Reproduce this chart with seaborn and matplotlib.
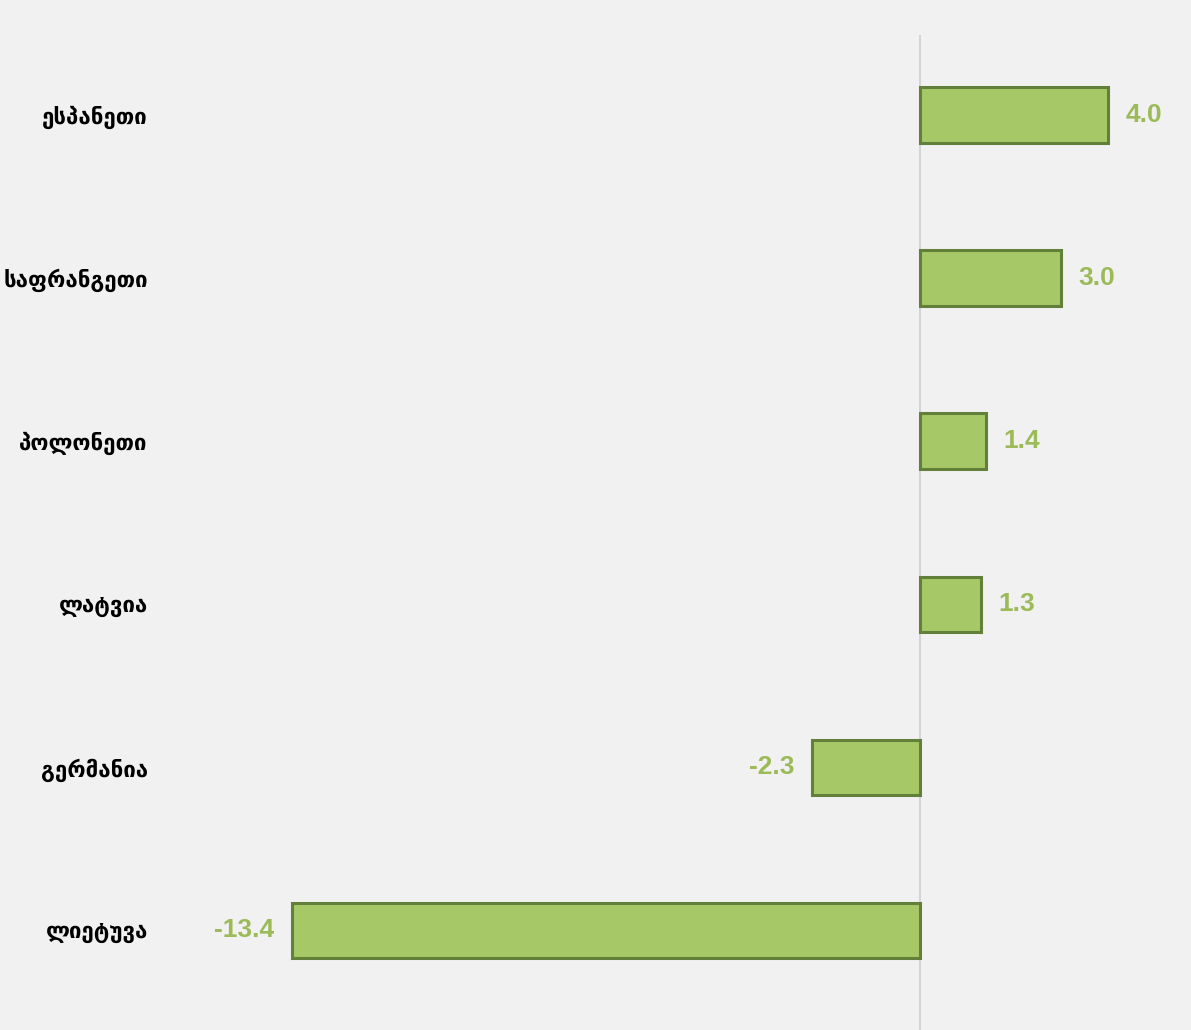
import pandas as pd
import matplotlib.pyplot as plt
import seaborn as sns

countries = ['ესპანეთი', 'საფრანგეთი', 'პოლონეთი', 'ლატვია', 'გერმანია', 'ლიეტუვა']
values = [4.0, 3.0, 1.4, 1.3, -2.3, -13.4]

df = pd.DataFrame({'country': countries, 'value': values})

sns.set_theme(style="white")
plt.rcParams['font.family'] = ['DejaVu Sans']

fig = plt.figure(figsize=(11.91, 10.30), dpi=100)
fig.patch.set_facecolor('#f1f1f1')
ax = fig.add_axes([170 / 1191, 0, 1021 / 1191, 995 / 1030])
ax.set_facecolor('#f1f1f1')

sns.barplot(data=df, x='value', y='country', orient='h', color='#a6c867',
            saturation=1, width=0.34, edgecolor='#62803a', linewidth=2.2, ax=ax)

# vertical zero line
ax.axvline(0, color='#cfcfcf', lw=1.2, zorder=0)

for i, v in enumerate(values):
    off = 0.38 if v > 0 else -0.38
    ax.text(v + off, i, f'{v:.1f}', ha='left' if v > 0 else 'right', va='center',
            color='#9bbb59', fontsize=19, fontweight='bold', family='Liberation Sans')

ax.set_xlim(-16.0, 5.78)
ax.set_ylim(5.61, -0.49)
ax.set_xlabel('')
ax.set_ylabel('')
ax.set_xticks([])
for s in ax.spines.values():
    s.set_visible(False)
ax.tick_params(axis='y', length=0, pad=16)
for lbl in ax.get_yticklabels():
    lbl.set_fontsize(16)
    lbl.set_fontweight('bold')
    lbl.set_color('black')

plt.savefig('out.png', dpi=100, facecolor=fig.get_facecolor())
plt.close()
